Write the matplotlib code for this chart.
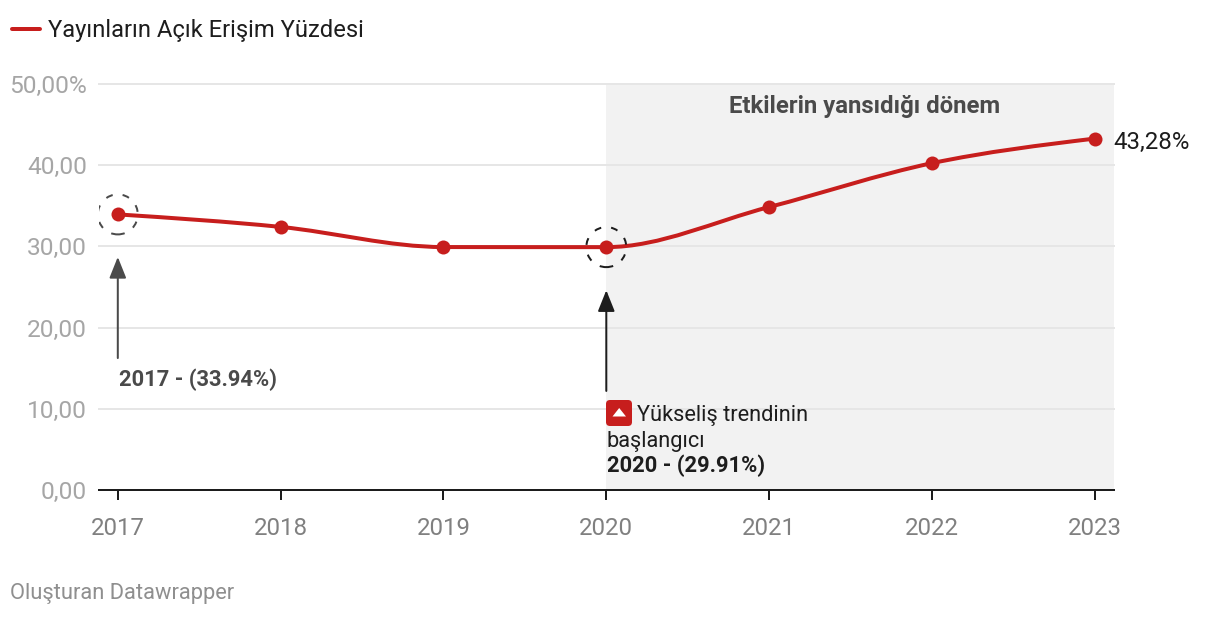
import matplotlib
matplotlib.use("Agg")
import matplotlib.pyplot as plt
from matplotlib.patches import FancyBboxPatch, PathPatch, Polygon
from matplotlib.path import Path
from matplotlib.transforms import Affine2D

# Data
years = [2017, 2018, 2019, 2020, 2021, 2022, 2023]
values = [33.94, 32.4, 29.92, 29.91, 34.85, 40.25, 43.28]
y_ticks = [0, 10, 20, 30, 40, 50]
y_labels = ["0,00", "10,00", "20,00", "30,00", "40,00", "50,00%"]
series_name = "Yayınların Açık Erişim Yüzdesi"
end_label = "43,28%"
period_label = "Etkilerin yansıdığı dönem"
note_2017 = "2017 - (33.94%)"
note_2020 = ["Yükseliş trendinin", "başlangıcı", "2020 - (29.91%)"]
footer = "Oluşturan Datawrapper"

RED = "#c71e1d"
DARK = "#1d1d1d"
GREY = "#4a4a4a"

W, H = 1220, 618
plt.rcParams["font.family"] = ["Roboto", "DejaVu Sans"]


def px(size):
    # font and line sizes are read in pixels from the reference
    return size * 72 / 100


def monotone_path(xs, ys):
    # Same curve as a monotone-x line: tangents limited so it never overshoots
    n = len(xs)
    dx = [xs[i + 1] - xs[i] for i in range(n - 1)]
    slope = [(ys[i + 1] - ys[i]) / dx[i] for i in range(n - 1)]
    tangent = [0.0] * n
    for i in range(1, n - 1):
        if slope[i - 1] * slope[i] > 0:
            p = (slope[i - 1] + slope[i]) / 2
            tangent[i] = (min(abs(slope[i - 1]), abs(slope[i]), abs(p) / 2) * 2
                          * (1 if p > 0 else -1))
    tangent[0] = (3 * slope[0] - tangent[1]) / 2
    tangent[-1] = (3 * slope[-1] - tangent[-2]) / 2
    verts = [(xs[0], ys[0])]
    codes = [Path.MOVETO]
    for i in range(n - 1):
        h = dx[i] / 3
        verts += [(xs[i] + h, ys[i] + h * tangent[i]),
                  (xs[i + 1] - h, ys[i + 1] - h * tangent[i + 1]),
                  (xs[i + 1], ys[i + 1])]
        codes += [Path.CURVE4] * 3
    return Path(verts, codes)


fig = plt.figure(figsize=(W / 100, H / 100), dpi=100)
ax = fig.add_axes([99 / W, 1 - 490 / H, (1114 - 99) / W, (490 - 84) / H])

# pixel coordinates measured from the top left, for the furniture around the plot
page = Affine2D().scale(1, -1).translate(0, H)

step = (1095 - 118) / 6
ax.set_xlim(2017 - 18.8 / step, 2023 + 19.2 / step)
ax.set_ylim(0, 50)

ax.axvspan(2020, ax.get_xlim()[1], color="#f2f2f2", lw=0, zorder=0)
ax.set_axisbelow(True)
ax.yaxis.grid(True, color="#e6e6e6", lw=px(2), zorder=1, clip_on=False)

for side in ["left", "right", "top"]:
    ax.spines[side].set_visible(False)
ax.spines["bottom"].set_linewidth(px(2))
ax.spines["bottom"].set_color(DARK)

ax.set_xticks(years)
ax.set_xticklabels([str(y) for y in years], fontsize=px(24), color="#808080")
ax.tick_params(axis="x", length=px(10), width=px(2), color=DARK, pad=px(17))
ax.set_yticks(y_ticks)
ax.set_yticklabels(y_labels, fontsize=px(24.5), color="#a6a6a6")
ax.tick_params(axis="y", length=0, pad=px(12))

# Line and points
ax.add_patch(PathPatch(monotone_path(years, values), fill=False, edgecolor=RED,
                       lw=px(4), capstyle="round", zorder=3))
line, = ax.plot(years, values, "o", color=RED, ms=px(14), mew=0, zorder=4)

# Dashed rings around 2017 and 2020
ax.scatter([years[0]], [values[0]], s=px(40) ** 2, facecolors="none", edgecolors=GREY,
           linewidths=px(2), linestyle=(0, (3.5, 5)), zorder=5)
ax.scatter([years[3]], [values[3]], s=px(40) ** 2, facecolors="none", edgecolors=DARK,
           linewidths=px(2), linestyle=(0, (3.5, 5)), zorder=5)

# Arrows
arrow = "-|>,head_length=0.9,head_width=0.36"
ax.annotate("", xy=(years[0], 28.7), xytext=(years[0], 16.25),
            arrowprops=dict(arrowstyle=arrow, color=GREY, lw=px(2), mutation_scale=px(20),
                            shrinkA=0, shrinkB=0), zorder=5)
ax.annotate("", xy=(years[3], 24.6), xytext=(years[3], 12.2),
            arrowprops=dict(arrowstyle=arrow, color=DARK, lw=px(2), mutation_scale=px(20),
                            shrinkA=0, shrinkB=0), zorder=5)

# Labels inside the plot
ax.annotate(end_label, xy=(years[-1], values[-1]), xytext=(px(19), px(-4)),
            textcoords="offset points", fontsize=px(24), color=DARK, va="center")
fig.text(865, 106, period_label, transform=page, fontsize=px(23.9), fontweight="bold",
         color=GREY, ha="center", va="center")
fig.text(119, 380, note_2017, transform=page, fontsize=px(22), fontweight="bold",
         color=GREY, va="center")
fig.text(637, 415, note_2020[0], transform=page, fontsize=px(21.8), color=DARK, va="center")
fig.text(607, 441, note_2020[1], transform=page, fontsize=px(21.8), color=DARK, va="center")
fig.text(607, 466, note_2020[2], transform=page, fontsize=px(22), fontweight="bold",
         color=DARK, va="center")

# Red badge with the small up triangle
fig.add_artist(FancyBboxPatch((609, 403), 20, 20, boxstyle="round,pad=3,rounding_size=4",
                              transform=page, facecolor=RED, edgecolor="none"))
fig.add_artist(Polygon([(612.5, 416.5), (626, 416.5), (619.2, 408)], transform=page,
                       facecolor="white", edgecolor="none"))

# Legend and footer
handle, = ax.plot([], [], color=RED, lw=px(4), solid_capstyle="round")
fig.legend([handle], [series_name], loc="center left", bbox_to_anchor=(-9 / W, 1 - 31 / H),
           frameon=False, fontsize=px(23.8), labelcolor=DARK, handlelength=1.15,
           handletextpad=0.36)
fig.text(10, 593.5, footer, transform=page, fontsize=px(21.9), color="#8f8f8f", va="center")

fig.savefig("out.png", dpi=100)
